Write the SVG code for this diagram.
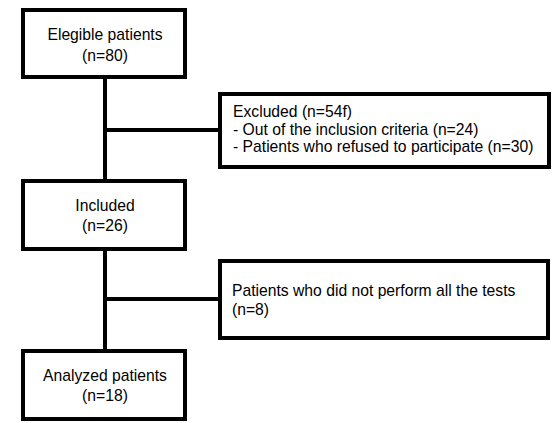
<svg xmlns="http://www.w3.org/2000/svg" width="559" height="423" viewBox="0 0 559 423">
<style>
.box{fill:#fff;stroke:#000;stroke-width:4}
.ln{stroke:#000;stroke-width:4;fill:none}
text{font-family:"Liberation Sans",Arial,sans-serif;font-size:15.7px;fill:#000}
.c{text-anchor:middle}
</style>
<rect width="559" height="423" fill="#fff"/>
<g id="connectors">
<line class="ln" x1="105" y1="77" x2="105" y2="181"/>
<line class="ln" x1="105" y1="130" x2="220" y2="130"/>
<line class="ln" x1="105" y1="249" x2="105" y2="351"/>
<line class="ln" x1="105" y1="299" x2="220" y2="299"/>
</g>
<g id="eligible">
<rect class="box" x="23" y="10" width="162" height="67"/>
<text class="c" x="105" y="40">Elegible patients</text>
<text class="c" x="105" y="61">(n=80)</text>
</g>
<g id="excluded">
<rect class="box" x="220" y="94" width="329" height="73"/>
<text x="233" y="117">Excluded (n=54f)</text>
<text x="233" y="135">- Out of the inclusion criteria (n=24)</text>
<text x="233" y="152">- Patients who refused to participate (n=30)</text>
</g>
<g id="included">
<rect class="box" x="23" y="181" width="162" height="68"/>
<text class="c" x="105" y="211">Included</text>
<text class="c" x="105" y="231">(n=26)</text>
</g>
<g id="notperformed">
<rect class="box" x="220" y="261" width="328" height="77"/>
<text x="232" y="296">Patients who did not perform all the tests</text>
<text x="232" y="315">(n=8)</text>
</g>
<g id="analyzed">
<rect class="box" x="23" y="351" width="162" height="68"/>
<text class="c" x="105" y="381">Analyzed patients</text>
<text class="c" x="105" y="401">(n=18)</text>
</g>
</svg>
